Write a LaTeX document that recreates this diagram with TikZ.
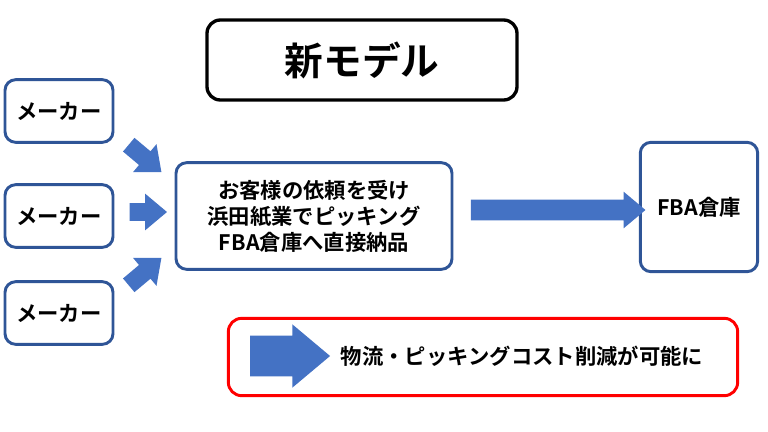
\documentclass[tikz,border=0pt]{standalone}
\usepackage{fontspec}
\setmainfont{Noto Sans CJK JP}[BoldFont={Noto Sans CJK JP Bold}]
\usetikzlibrary{shapes.arrows}
\definecolor{boxblue}{HTML}{2F5597}
\definecolor{arrblue}{HTML}{4472C4}
\begin{document}
\begin{tikzpicture}[x=0.75pt,y=-0.75pt]
\tikzset{
  Maker/.style={draw=boxblue, line width=2.2pt, rounded corners=8pt, fill=white, font=\bfseries\fontsize{16}{18}\selectfont},
  BlockArrow/.style={single arrow, fill=arrblue, draw=none, inner xsep=0pt, single arrow tip angle=80}
}
\useasboundingbox (0,0) rectangle (768,432);
\node (title) at (362,60) [draw, line width=2.5pt, rounded corners=10pt, minimum width=232.5pt, minimum height=60pt, font=\bfseries\fontsize{29}{32}\selectfont] {新モデル};
\node (M1) at (59,111) [Maker, minimum width=81pt, minimum height=47pt] {メーカー};
\node (M2) at (59,216) [Maker, minimum width=81pt, minimum height=47pt] {メーカー};
\node (M3) at (59,313) [Maker, minimum width=81pt, minimum height=47pt] {メーカー};
\node (C) at (314,216) [Maker, minimum width=207pt, minimum height=80pt, align=center, font=\bfseries\fontsize{16}{19.5}\selectfont] {お客様の依頼を受け\\浜田紙業でピッキング\\FBA倉庫へ直接納品};
\node (F) at (699,207) [Maker, minimum width=88pt, minimum height=97pt] {FBA倉庫};
\node (A1) at (141,155) [BlockArrow, rotate=-40, minimum height=32pt, inner ysep=6.5pt, single arrow head extend=7pt] {};
\node (A2) at (143,212) [BlockArrow, minimum height=28pt, inner ysep=6.5pt, single arrow head extend=7pt] {};
\node (A3) at (141,275) [BlockArrow, rotate=40, minimum height=32pt, inner ysep=6.5pt, single arrow head extend=7pt] {};
\node (A4) at (552,210) [BlockArrow, minimum height=131pt, inner ysep=7.5pt, single arrow head extend=6pt] {};
\node (R) at (483,357) [draw=red, line width=2.2pt, rounded corners=10pt, minimum width=382pt, minimum height=58pt] {};
\node (A5) at (278,356) [BlockArrow, minimum height=60pt, inner ysep=15pt, single arrow head extend=8.5pt] {};
\node (Rt) at (522,356) [font=\bfseries\fontsize{16}{18}\selectfont] {物流・ピッキングコスト削減が可能に};
\end{tikzpicture}
\end{document}
